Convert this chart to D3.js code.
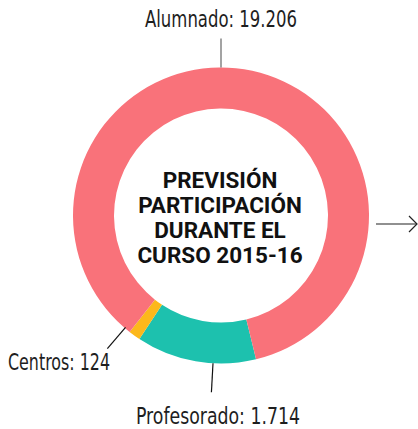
<!DOCTYPE html>
<html>
<head>
<meta charset="utf-8">
<script src="https://cdn.jsdelivr.net/npm/d3@7"></script>
<style>
  body { margin: 0; background: #fff; }
  text { font-family: "DejaVu Sans Condensed", "Liberation Sans", sans-serif; }
</style>
</head>
<body>
<svg></svg>
<script>
const size = {w: 418, h: 429};
const svg = d3.select('svg');

svg.attr('width', size.w)
    .attr('height', size.h);

// data (clockwise order from the bottom right)
const categories = ['Profesorado', 'Centros', 'Alumnado'];
const counts = ['1.714', '124', '19.206'];
// share of the ring each segment takes in the picture (%)
const ringShare = [13.1, 1.3, 85.6];
const colors = ['#1dc1ae', '#fcb81b', '#f9727a'];
const titleLines = ['PREVISIÓN', 'PARTICIPACIÓN', 'DURANTE EL', 'CURSO 2015-16'];

const cx = 221, cy = 215.5;
const rOuter = 148, rInner = 107;
const deg = Math.PI / 180;

const data = categories.map((c, i) => ({name: c, count: counts[i], share: ringShare[i], color: colors[i]}));

const pie = d3.pie()
    .sort(null)
    .value(d => d.share)
    .startAngle(166.3 * deg)
    .endAngle(166.3 * deg + 2 * Math.PI);

const arc = d3.arc()
    .innerRadius(rInner)
    .outerRadius(rOuter);

const g = svg.append('g').attr('transform', `translate(${cx},${cy})`);

g.selectAll('path')
    .data(pie(data))
    .join('path')
    .attr('d', arc)
    .attr('fill', d => d.data.color);

// polar helper
function pt(angle, r) {
    return [Math.sin(angle * deg) * r, -Math.cos(angle * deg) * r];
}

// leader lines
const leaders = [
    {a: 0, r0: rOuter, r1: rOuter + 29, color: '#666'},
    {a: 183.1, r0: rOuter, r1: rOuter + 29, color: '#111'},
    {a: 220.5, r0: rOuter - 1, r1: rOuter + 27, color: '#111'}
];
g.selectAll('line.leader')
    .data(leaders)
    .join('line')
    .classed('leader', true)
    .attr('x1', d => pt(d.a, d.r0)[0])
    .attr('y1', d => pt(d.a, d.r0)[1])
    .attr('x2', d => pt(d.a, d.r1)[0])
    .attr('y2', d => pt(d.a, d.r1)[1])
    .attr('stroke', d => d.color)
    .attr('stroke-width', 1.2);

// labels
const fmt = d => d.name + ': ' + d.count;
const byName = n => data.find(d => d.name === n);

const labels = [
    {name: 'Alumnado', x: 145, y: 27, w: 152},
    {name: 'Centros', x: 8, y: 370, w: 102},
    {name: 'Profesorado', x: 136, y: 424, w: 164}
];
svg.selectAll('text.label')
    .data(labels)
    .join('text')
    .classed('label', true)
    .attr('x', d => d.x)
    .attr('y', d => d.y)
    .attr('font-size', 23)
    .attr('textLength', d => d.w)
    .attr('lengthAdjust', 'spacingAndGlyphs')
    .attr('fill', '#1e1e1e')
    .text(d => fmt(byName(d.name)));

// centre title
svg.append('g')
    .selectAll('text')
    .data(titleLines)
    .join('text')
    .attr('x', cx - 1)
    .attr('y', (d, i) => 188 + i * 25)
    .attr('text-anchor', 'middle')
    .attr('font-size', 22.5)
    .attr('font-weight', 'bold')
    .style('font-family', 'Roboto, "Liberation Sans", sans-serif')
    .attr('fill', '#111')
    .text(d => d);

// arrow on the right
const arrow = svg.append('g')
    .attr('stroke', '#222')
    .attr('stroke-width', 1.2)
    .attr('fill', 'none');
arrow.append('line')
    .attr('x1', 376).attr('y1', 224)
    .attr('x2', 417).attr('y2', 224);
arrow.append('path')
    .attr('d', 'M409,216 L417,224 L409,232');
</script>
</body>
</html>
